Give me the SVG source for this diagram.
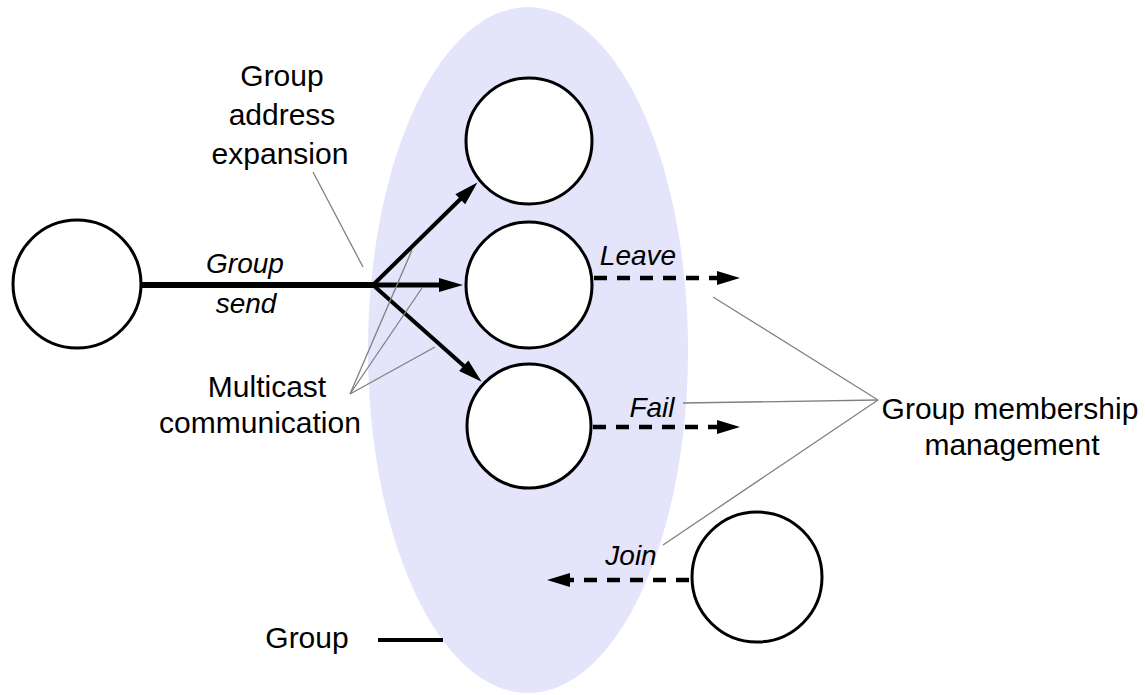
<svg xmlns="http://www.w3.org/2000/svg" width="1145" height="695" viewBox="0 0 1145 695">
<style>
.node{fill:#fff;stroke:#000;stroke-width:3}
.lbl{font-family:"Liberation Sans",Arial,sans-serif;font-size:30px;fill:#000;text-anchor:middle}
.it{font-family:"Liberation Sans",Arial,sans-serif;font-size:28px;font-style:italic;fill:#000;text-anchor:middle}
.solid{stroke:#000;stroke-width:4;fill:none}
.thick{stroke-width:6}
.mid{stroke-width:5}
.dash{stroke:#000;stroke-width:4.5;fill:none;stroke-dasharray:13 10}
.lead{stroke:#808080;stroke-width:1.3;fill:none}
</style>
<defs>
<marker id="ah" markerUnits="userSpaceOnUse" markerWidth="24" markerHeight="16" refX="1" refY="7" orient="auto" overflow="visible">
<path d="M0,0 L24,7 L0,14 z" fill="#000"/>
</marker>
<marker id="ahd" markerUnits="userSpaceOnUse" markerWidth="24" markerHeight="16" refX="0" refY="7" orient="auto" overflow="visible">
<path d="M0,0 L23,7 L0,14 z" fill="#000"/>
</marker>
</defs>
<rect width="1145" height="695" fill="#fff"/>
<g id="group-ellipse">
<ellipse cx="528" cy="350" rx="160" ry="343" fill="#e4e4fb"/>
</g>
<g id="connectors">
<line class="solid thick" x1="142" y1="285" x2="376" y2="285"/>
<line class="solid" x1="373" y1="285" x2="461" y2="198.5" marker-end="url(#ah)"/>
<line class="solid mid" x1="373" y1="285" x2="440" y2="285" marker-end="url(#ah)"/>
<line class="solid" x1="373" y1="285" x2="464.5" y2="366.5" marker-end="url(#ah)"/>
<line class="dash" x1="594" y1="278" x2="717" y2="278" marker-end="url(#ahd)"/>
<line class="dash" x1="593" y1="427" x2="717" y2="427" marker-end="url(#ahd)"/>
<line class="dash" x1="689" y1="580" x2="570" y2="580" marker-end="url(#ahd)"/>
<line class="lead" x1="313" y1="172" x2="363" y2="267"/>
<line class="lead" x1="350" y1="394" x2="412" y2="250"/>
<line class="lead" x1="350" y1="394" x2="422" y2="288"/>
<line class="lead" x1="350" y1="394" x2="435" y2="347"/>
<line class="lead" x1="713" y1="297" x2="878" y2="400"/>
<line class="lead" x1="683" y1="403" x2="878" y2="400"/>
<line class="lead" x1="663" y1="545" x2="878" y2="400"/>
<line x1="378" y1="640" x2="443" y2="640" stroke="#000" stroke-width="4"/>
</g>
<g id="sender"><circle class="node" cx="77" cy="284" r="64"/></g>
<g id="member-top"><circle class="node" cx="529" cy="141" r="63"/></g>
<g id="member-middle"><circle class="node" cx="529" cy="285" r="63"/></g>
<g id="member-bottom"><circle class="node" cx="529" cy="426" r="62"/></g>
<g id="joiner"><circle class="node" cx="757" cy="577" r="65"/></g>
<g id="labels">
<text class="lbl" x="282" y="86">Group</text>
<text class="lbl" x="282" y="125">address</text>
<text class="lbl" x="280" y="164">expansion</text>
<text class="it" x="245" y="273">Group</text>
<text class="it" x="246" y="313">send</text>
<text class="lbl" x="267" y="397">Multicast</text>
<text class="lbl" x="260" y="433">communication</text>
<text class="lbl" x="307" y="648">Group</text>
<text class="it" x="638" y="265">Leave</text>
<text class="it" x="652" y="417">Fail</text>
<text class="it" x="631" y="565">Join</text>
<text class="lbl" x="1010" y="419">Group membership</text>
<text class="lbl" x="1012" y="455">management</text>
</g>
</svg>
